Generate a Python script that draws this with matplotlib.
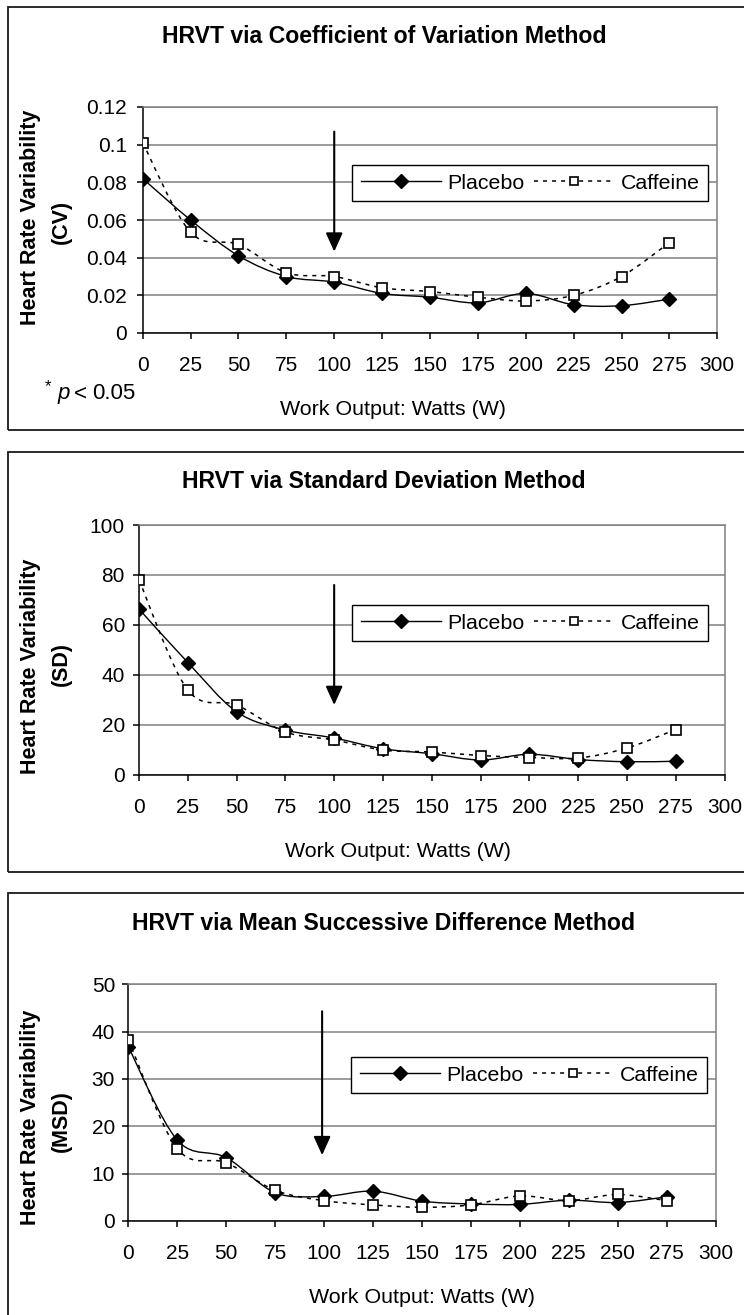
import numpy as np
import matplotlib
matplotlib.use('Agg')
import matplotlib.pyplot as plt
from matplotlib.path import Path
from matplotlib.patches import PathPatch, Rectangle
from matplotlib.lines import Line2D

plt.rcParams['font.family'] = ['Liberation Sans', 'DejaVu Sans']
plt.rcParams['lines.scale_dashes'] = False

# ---------------- data ----------------
watts = [0, 25, 50, 75, 100, 125, 150, 175, 200, 225, 250, 275]
x_ticks = [0, 25, 50, 75, 100, 125, 150, 175, 200, 225, 250, 275, 300]

cv_placebo = [0.082, 0.060, 0.041, 0.030, 0.027, 0.021, 0.019, 0.016, 0.021, 0.015, 0.0145, 0.018]
cv_caffeine = [0.101, 0.0535, 0.047, 0.032, 0.030, 0.024, 0.022, 0.019, 0.017, 0.020, 0.030, 0.048]
cv_yticks = [0, 0.02, 0.04, 0.06, 0.08, 0.10, 0.12]
cv_ylabels = ['0', '0.02', '0.04', '0.06', '0.08', '0.1', '0.12']

sd_placebo = [66.4, 45, 25.3, 18, 14.8, 10.5, 8.5, 6.0, 8.3, 6.2, 5.3, 5.5]
sd_caffeine = [78, 34, 28, 17.2, 14, 10, 9.2, 7.8, 7.0, 6.8, 10.8, 18.2]
sd_yticks = [0, 20, 40, 60, 80, 100]

msd_placebo = [36.8, 17.1, 13.4, 6.0, 5.2, 6.3, 4.2, 3.6, 3.5, 4.4, 3.9, 5.1]
msd_caffeine = [38.3, 15.3, 12.3, 6.5, 4.3, 3.4, 2.9, 3.4, 5.3, 4.3, 5.6, 4.3]
msd_yticks = [0, 10, 20, 30, 40, 50]

titles = ['HRVT via Coefficient of Variation Method',
          'HRVT via Standard Deviation Method',
          'HRVT via Mean Successive Difference Method']
ylab_units = ['(CV)', '(SD)', '(MSD)']
series_names = ['Placebo', 'Caffeine']
xlabel_text = 'Work Output: Watts (W)'

arrow_x = [100, 100, 99]
arrow_top = [0.1069, 76, 44.3]
arrow_tip = [0.0432, 28, 13.9]

# ---------------- layout (pixels) ----------------
W, H = 744, 1315
fig = plt.figure(figsize=(W / 100, H / 100), dpi=100)


def fx(px):
    return px / W


def fy(py):
    return 1 - py / H


panels = [
    dict(ax=(142.7, 717.3, 107, 333), box=(6.7, 430), title_y=43, xl=(393.5, 415),
         yl1=217.5, yl2=221.5, ypad=7.0, leg=(352, 165),
         yt=cv_yticks, ytl=cv_ylabels, p=cv_placebo, c=cv_caffeine),
    dict(ax=(139, 724.5, 525, 775), box=(451.7, 871.7), title_y=488.3, xl=(398, 857.3),
         yl1=666, yl2=664.5, ypad=5.8, leg=(352, 605),
         yt=sd_yticks, ytl=[str(v) for v in sd_yticks], p=sd_placebo, c=sd_caffeine),
    dict(ax=(128.3, 715.6, 984.3, 1221), box=(893.3, 1340), title_y=930, xl=(422, 1302.7),
         yl1=1117.5, yl2=1121, ypad=5.2, leg=(351, 1057),
         yt=msd_yticks, ytl=[str(v) for v in msd_yticks], p=msd_placebo, c=msd_caffeine),
]

dash = (0, (2.9, 3.6))


def smooth_path(x, y):
    x = np.asarray(x, float)
    y = np.asarray(y, float)
    n = len(x)
    verts = [(x[0], y[0])]
    codes = [Path.MOVETO]
    for i in range(n - 1):
        xm, ym = (x[i - 1], y[i - 1]) if i > 0 else (x[i], y[i])
        xp, yp = (x[i + 2], y[i + 2]) if i + 2 < n else (x[i + 1], y[i + 1])
        c1 = (x[i] + (x[i + 1] - xm) / 6, y[i] + (y[i + 1] - ym) / 6)
        c2 = (x[i + 1] - (xp - x[i]) / 6, y[i + 1] - (yp - y[i]) / 6)
        verts += [c1, c2, (x[i + 1], y[i + 1])]
        codes += [Path.CURVE4] * 3
    return Path(verts, codes)


FS = 15.4
for k, pn in enumerate(panels):
    l, r, t, b = pn['ax']
    ax = fig.add_axes([fx(l), fy(b), (r - l) / W, (b - t) / H])
    ax.set_xlim(0, 300)
    ax.set_ylim(pn['yt'][0], pn['yt'][-1])
    ax.set_xticks(x_ticks)
    ax.set_xticklabels([str(v) for v in x_ticks])
    ax.set_yticks(pn['yt'])
    ax.set_yticklabels(pn['ytl'])
    ax.yaxis.grid(True, color='#808080', lw=1.1)
    ax.set_axisbelow(True)
    for s in ['left', 'bottom']:
        ax.spines[s].set_color('black')
        ax.spines[s].set_linewidth(1.1)
    for s in ['top', 'right']:
        ax.spines[s].set_color('#808080')
        ax.spines[s].set_linewidth(1.1)
    ax.tick_params(direction='out', length=4.3, width=1.1, color='black', labelsize=15)
    ax.tick_params(axis='x', pad=12.5)
    ax.tick_params(axis='y', pad=pn['ypad'])

    # smoothed lines
    ax.add_patch(PathPatch(smooth_path(watts, pn['p']), fill=False, ec='black', lw=1.0, zorder=3))
    ax.add_patch(PathPatch(smooth_path(watts, pn['c']), fill=False, ec='black', lw=1.1,
                           linestyle=dash, zorder=3))
    ax.plot(watts, pn['p'], ls='none', marker='D', ms=7.2, mfc='black', mec='black', zorder=4)
    ax.plot(watts, pn['c'], ls='none', marker='s', ms=7.2, mfc='white', mec='black', mew=1.2, zorder=5)

    # arrow
    ax.annotate('', xy=(arrow_x[k], arrow_tip[k]), xytext=(arrow_x[k], arrow_top[k]),
                arrowprops=dict(arrowstyle='-|>,head_length=0.42,head_width=0.19',
                                mutation_scale=27, lw=1.5, color='black',
                                shrinkA=0, shrinkB=0), zorder=6)

    # legend
    handles = [Line2D([], [], color='black', lw=1.0, marker='D', ms=7, mfc='black'),
               Line2D([], [], color='black', lw=1.1, ls=dash, marker='s', ms=6,
                      mfc='white', mec='black', mew=1.2)]
    lx, ly = pn['leg']
    leg = ax.legend(handles, series_names, loc='upper left',
                    bbox_to_anchor=(fx(lx), fy(ly)), bbox_transform=fig.transFigure,
                    ncol=2, frameon=True, fancybox=False, edgecolor='black', framealpha=1,
                    borderaxespad=0, borderpad=0.4, handlelength=3.74, handletextpad=0.33,
                    columnspacing=0.42, fontsize=FS, numpoints=1)
    leg.get_frame().set_linewidth(1.0)
    leg.set_zorder(10)

    # titles and labels
    fig.text(fx(384), fy(pn['title_y']), titles[k], ha='center', va='baseline',
             fontsize=16.6, fontweight='bold')
    fig.text(fx(31), fy(pn['yl1']), 'Heart Rate Variability', rotation=90, ha='center',
             va='center', fontsize=15.5, fontweight='bold')
    fig.text(fx(61), fy(pn['yl2']), ylab_units[k], rotation=90, ha='center',
             va='center', fontsize=15.5, fontweight='bold')
    fig.text(fx(pn['xl'][0]), fy(pn['xl'][1]), xlabel_text, ha='center', va='baseline',
             fontsize=FS)

    # panel border
    bt, bb = pn['box']
    fig.add_artist(Rectangle((fx(8.3), fy(bb)), (770 - 8.3) / W, (bb - bt) / H,
                             transform=fig.transFigure, fill=False, ec='#1a1a1a', lw=1.3))

# significance note
fig.text(fx(45), fy(391), '*', ha='left', va='baseline', fontsize=12)
fig.text(fx(58), fy(399.3), 'p', ha='left', va='baseline', fontsize=16, style='italic')
fig.text(fx(74), fy(399.3), '<', ha='left', va='baseline', fontsize=16)
fig.text(fx(92), fy(399.3), '0.05', ha='left', va='baseline', fontsize=16)

fig.savefig('out.png', dpi=100)
